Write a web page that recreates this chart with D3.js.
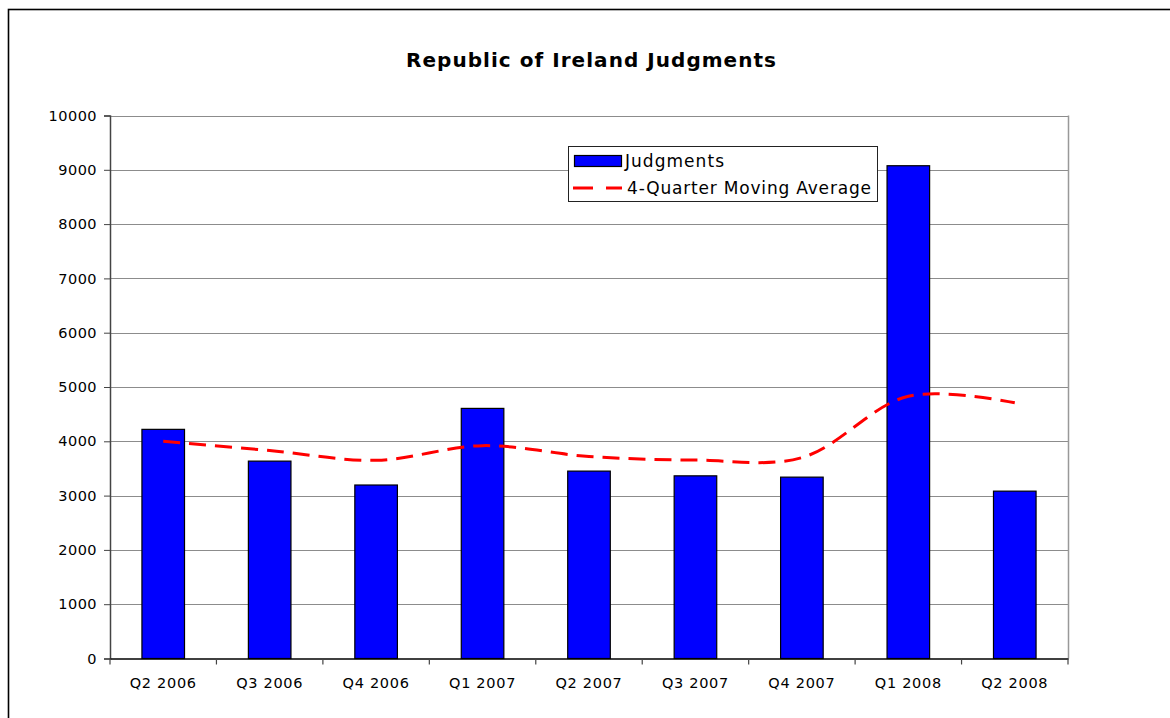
<!DOCTYPE html>
<html>
<head>
<meta charset="utf-8">
<script src="https://cdn.jsdelivr.net/npm/d3@7"></script>
<style>
  html, body { margin: 0; padding: 0; background: #fff; }
  svg { display: block; }
  text { font-family: "DejaVu Sans", Verdana, sans-serif; fill: #000; }
</style>
</head>
<body>
<svg id="chart" width="1170" height="718"></svg>
<script>
const categories = ["Q2 2006","Q3 2006","Q4 2006","Q1 2007","Q2 2007","Q3 2007","Q4 2007","Q1 2008","Q2 2008"];
const judgments = [4220, 3635, 3195, 4606, 3451, 3364, 3340, 9075, 3082];
const movingAverage = [4000, 3830, 3650, 3920, 3720, 3655, 3700, 4830, 4710];
const yTicks = [0,1000,2000,3000,4000,5000,6000,7000,8000,9000,10000];
const title = "Republic of Ireland Judgments";
const seriesNames = ["Judgments", "4-Quarter Moving Average"];

const svg = d3.select("#chart");
const plot = {left: 110, right: 1068, top: 115.5, bottom: 658.5};

// outer border
svg.append("rect").attr("x", 8.5).attr("y", 9.5).attr("width", 1200).attr("height", 800)
  .attr("fill", "#fff").attr("stroke", "#000").attr("stroke-width", 1.6);

const x = d3.scaleBand().domain(categories).range([plot.left, plot.right])
  .paddingInner(0.6).paddingOuter(0.3);
const y = d3.scaleLinear().domain([0, 10000]).range([plot.bottom, plot.top]);

// gridlines
svg.append("g").selectAll("line").data(yTicks.filter(d => d > 0)).join("line")
  .attr("x1", plot.left).attr("x2", plot.right)
  .attr("y1", d => Math.round(y(d)) + 0.5).attr("y2", d => Math.round(y(d)) + 0.5)
  .attr("stroke", "#8c8c8c").attr("stroke-width", 1);

// right plot border
svg.append("line").attr("x1", plot.right + 0.5).attr("x2", plot.right + 0.5)
  .attr("y1", plot.top).attr("y2", plot.bottom).attr("stroke", "#999").attr("stroke-width", 1.5);

// bars
svg.append("g").selectAll("rect").data(categories).join("rect")
  .attr("x", d => x(d))
  .attr("width", x.bandwidth())
  .attr("y", (d, i) => y(judgments[i]))
  .attr("height", (d, i) => y(0) - y(judgments[i]))
  .attr("fill", "#0000ff").attr("stroke", "#000").attr("stroke-width", 1.2);

// y axis
const yAxis = svg.append("g").attr("transform", `translate(${plot.left},0)`)
  .call(d3.axisLeft(y).tickValues(yTicks).tickSize(6).tickPadding(7).tickFormat(d3.format("d")));
yAxis.select(".domain").attr("stroke", "#444").attr("stroke-width", 1.5);
yAxis.selectAll(".tick line").attr("stroke", "#444");
yAxis.selectAll("text").style("font-size", "14.5px").style("letter-spacing", "0.45px").attr("fill", "#000");

// x axis
const xAxis = svg.append("g").attr("transform", `translate(0,${plot.bottom})`)
  .call(d3.axisBottom(x).tickSize(0).tickPadding(19));
xAxis.select(".domain").attr("stroke", "#000").attr("stroke-width", 1.5);
xAxis.selectAll("text").style("font-size", "14.5px").style("letter-spacing", "0.7px").attr("fill", "#000");
const step = x.step();
const boundaries = categories.map(c => x(c) - step * x.paddingInner() / 2);
boundaries.push(x(categories[categories.length - 1]) + x.bandwidth() + step * x.paddingInner() / 2);
xAxis.selectAll(".bound").data(boundaries).join("line").attr("class", "bound")
  .attr("x1", d => d).attr("x2", d => d).attr("y1", 0).attr("y2", 6)
  .attr("stroke", "#444").attr("stroke-width", 1.2);

// moving average line
const line = d3.line()
  .x((d, i) => x(categories[i]) + x.bandwidth() / 2)
  .y(d => y(d))
  .curve(d3.curveCatmullRom.alpha(0.5));
svg.append("path").datum(movingAverage).attr("d", line)
  .attr("fill", "none").attr("stroke", "#ff0000").attr("stroke-width", 3)
  .attr("stroke-dasharray", "17,9");

// title
svg.append("text").attr("x", 406).attr("y", 67)
  .style("font-size", "20px").style("font-weight", "bold")
  .attr("textLength", 370).attr("lengthAdjust", "spacing").text(title);

// legend
const lg = svg.append("g");
lg.append("rect").attr("x", 568.5).attr("y", 146.5).attr("width", 309).attr("height", 55)
  .attr("fill", "#fff").attr("stroke", "#222").attr("stroke-width", 1);
lg.append("rect").attr("x", 574.5).attr("y", 155.5).attr("width", 47).attr("height", 11)
  .attr("fill", "#0000ff").attr("stroke", "#000").attr("stroke-width", 1.2);
lg.append("text").attr("x", 625).attr("y", 167).style("font-size", "17px")
  .attr("textLength", 99).attr("lengthAdjust", "spacing").text(seriesNames[0]);
lg.append("line").attr("x1", 573).attr("x2", 622).attr("y1", 188).attr("y2", 188)
  .attr("stroke", "#ff0000").attr("stroke-width", 3).attr("stroke-dasharray", "20,13");
lg.append("text").attr("x", 627).attr("y", 194).style("font-size", "17px")
  .attr("textLength", 244).attr("lengthAdjust", "spacing").text(seriesNames[1]);
</script>
</body>
</html>
